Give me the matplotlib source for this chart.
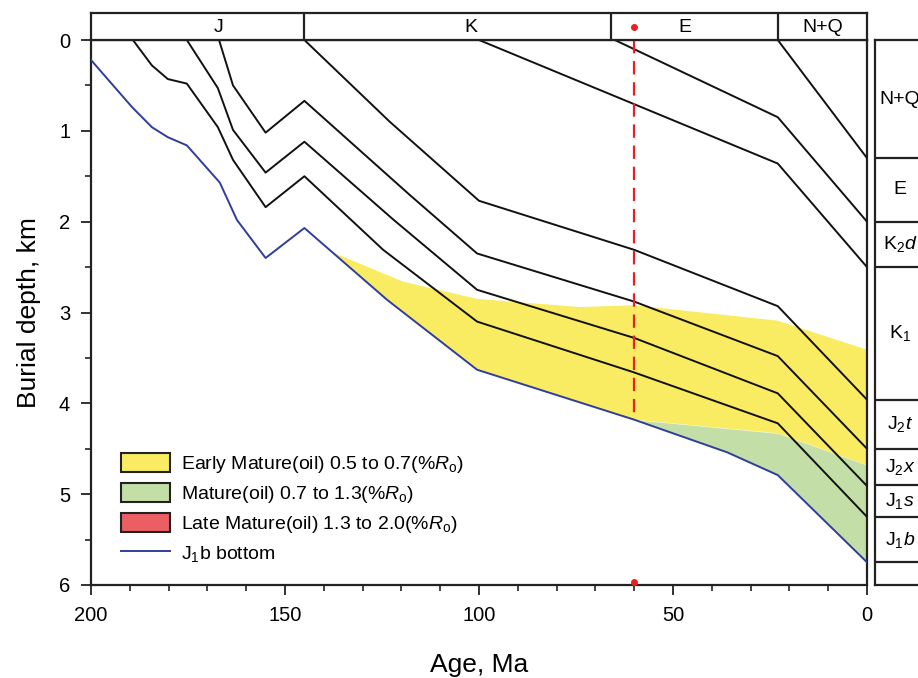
import matplotlib
matplotlib.use("Agg")
import matplotlib.pyplot as plt
import numpy as np
from matplotlib.patches import Patch
from matplotlib.lines import Line2D
from matplotlib.ticker import MultipleLocator

plt.rcParams['font.family'] = ['Liberation Sans', 'DejaVu Sans']
plt.rcParams['mathtext.fontset'] = 'custom'
plt.rcParams['mathtext.rm'] = 'Liberation Sans'
plt.rcParams['mathtext.it'] = 'Liberation Sans:italic'

# burial history curves: age (Ma) vs depth (km)
nq_age = [23, 0]
nq_depth = [0, 1.3]
e_age = [65, 23, 0]
e_depth = [0, 0.85, 2.0]
k2d_age = [100, 23, 0]
k2d_depth = [0, 1.36, 2.5]
k1_age = [145, 123, 100, 60, 23, 0]
k1_depth = [0, 0.90, 1.77, 2.31, 2.93, 3.96]
j2t_age = [167, 163.4, 155, 145, 118, 100.5, 60, 23, 0]
j2t_depth = [0, 0.50, 1.02, 0.67, 1.70, 2.35, 2.88, 3.48, 4.50]
j2x_age = [175.3, 167.3, 163.4, 155, 145, 122, 100.5, 60, 23, 0]
j2x_depth = [0, 0.53, 0.99, 1.46, 1.12, 1.98, 2.75, 3.28, 3.89, 4.91]
j1s_age = [189.2, 184.3, 180.2, 175.3, 167.3, 163.4, 155, 145, 124.7, 100.5, 60, 23, 0]
j1s_depth = [0, 0.28, 0.43, 0.48, 0.96, 1.32, 1.84, 1.50, 2.31, 3.10, 3.66, 4.22, 5.25]
j1b_age = [200, 189.4, 184.3, 180.2, 175.3, 166.8, 162.4, 155, 145, 123.7, 100.5, 60, 36, 23, 0]
j1b_depth = [0.22, 0.74, 0.96, 1.07, 1.16, 1.57, 1.98, 2.40, 2.07, 2.86, 3.63, 4.18, 4.54, 4.79, 5.75]

# maturity isolines
ro05_age = [137.6, 119.6, 100.5, 74, 60, 23, 0]
ro05_depth = [2.34, 2.66, 2.85, 2.94, 2.92, 3.09, 3.41]
ro07_age = [60, 23, 0]
ro07_depth = [4.18, 4.33, 4.68]

# stratigraphy
periods = ['J', 'K', 'E', 'N+Q']
period_bounds = [145, 66, 23]
period_label_x = [167, 102, 47, 11.5]
formations = ['N+Q', 'E', r'$\mathrm{K_2}\mathit{d}$', r'$\mathrm{K_1}$', r'$\mathrm{J_2}\mathit{t}$',
              r'$\mathrm{J_2}\mathit{x}$', r'$\mathrm{J_1}\mathit{s}$', r'$\mathrm{J_1}\mathit{b}$']
formation_bounds = [0, 1.3, 2.0, 2.5, 3.96, 4.5, 4.9, 5.25, 5.75]
section_age = 60

yellow = '#FAEC62'
green = '#C4DEA7'
red = '#EB5E63'
blue = '#2F3D9E'

fig = plt.figure(figsize=(9.18, 6.78), dpi=100)
ax = fig.add_axes([0.09913, 0.13717, 0.84532, 0.80383])
ax_top = fig.add_axes([0.09913, 0.94100, 0.84532, 0.0398])
ax_r = fig.add_axes([0.95316, 0.13717, 0.05447, 0.80383])

# maturity zones
blue_age_inc = np.array(j1b_age[::-1])
blue_dep_inc = np.array(j1b_depth[::-1])
bot_ages = [a for a in j1b_age if ro05_age[0] > a > ro07_age[0]]
poly_x = ro05_age + ro07_age[::-1] + [ro07_age[0]] + bot_ages[::-1] + [ro05_age[0]]
poly_y = (ro05_depth + ro07_depth[::-1]
          + list(np.interp([ro07_age[0]] + bot_ages[::-1] + [ro05_age[0]], blue_age_inc, blue_dep_inc)))
ax.fill(poly_x, poly_y, color=yellow, lw=0, zorder=1)

g_ages = np.array(sorted(set([a for a in j1b_age if a <= ro07_age[0]] + ro07_age)))
g_top = np.interp(g_ages, ro07_age[::-1], ro07_depth[::-1])
g_bot = np.interp(g_ages, blue_age_inc, blue_dep_inc)
ax.fill_between(g_ages, g_top, g_bot, color=green, lw=0, zorder=1)

for a, d in [(nq_age, nq_depth), (e_age, e_depth), (k2d_age, k2d_depth), (k1_age, k1_depth),
             (j2t_age, j2t_depth), (j2x_age, j2x_depth), (j1s_age, j1s_depth)]:
    ax.plot(a, d, color='#111111', lw=1.4, zorder=3)
ax.plot(j1b_age, j1b_depth, color=blue, lw=1.4, zorder=3)

# section line
sec_depth = np.interp(section_age, blue_age_inc, blue_dep_inc)
ax.plot([section_age, section_age], [0, sec_depth], color='#E82020', lw=1.6,
        dashes=(6, 3.5), zorder=4)
ax.plot([section_age], [5.97], 'o', color='#E82020', ms=4, clip_on=False, zorder=5)

ax.set_xlim(200, 0)
ax.set_ylim(6, 0)
ax.xaxis.set_major_locator(MultipleLocator(50))
ax.xaxis.set_minor_locator(MultipleLocator(10))
ax.yaxis.set_major_locator(MultipleLocator(1))
ax.yaxis.set_minor_locator(MultipleLocator(0.5))
ax.tick_params(which='major', direction='out', length=7, width=1.3, labelsize=14.5, pad=8,
               colors='#222222', labelcolor='black')
ax.tick_params(which='minor', direction='out', length=4, width=1.2, colors='#222222')
for s in ax.spines.values():
    s.set_linewidth(1.6)
    s.set_color('#222222')
ax.set_xlabel('Age, Ma', fontsize=19, labelpad=20)
ax.set_ylabel('Burial depth, km', fontsize=19, labelpad=13)

handles = [Patch(facecolor=yellow, edgecolor='#222222', lw=1.5),
           Patch(facecolor=green, edgecolor='#222222', lw=1.5),
           Patch(facecolor=red, edgecolor='#222222', lw=1.5),
           Line2D([], [], color=blue, lw=1.4)]
labels = [r'Early Mature(oil) 0.5 to 0.7(%$\mathit{R}_\mathrm{o}$)',
          r'Mature(oil) 0.7 to 1.3(%$\mathit{R}_\mathrm{o}$)',
          r'Late Mature(oil) 1.3 to 2.0(%$\mathit{R}_\mathrm{o}$)',
          r'J$_1$b bottom']
ax.legend(handles, labels, loc='upper left', bbox_to_anchor=(0.0387, 0.243), frameon=False,
          fontsize=14, handlelength=2.5, handleheight=1.15, labelspacing=0.4,
          handletextpad=0.6, borderpad=0, borderaxespad=0)

# period band
ax_top.set_xlim(200, 0)
ax_top.set_ylim(0, 1)
ax_top.set_xticks([])
ax_top.set_yticks([])
for s in ax_top.spines.values():
    s.set_linewidth(1.6)
    s.set_color('#222222')
for b in period_bounds:
    ax_top.axvline(b, color='#222222', lw=1.6)
for name, x in zip(periods, period_label_x):
    ax_top.text(x, 0.45, name, ha='center', va='center', fontsize=14)
ax_top.plot([section_age], [0.5], 'o', color='#E82020', ms=4)

# formation column
ax_r.set_xlim(0, 1)
ax_r.set_ylim(6, 0)
ax_r.set_xticks([])
ax_r.set_yticks([])
ax_r.spines['right'].set_visible(False)
for s in ['left', 'top', 'bottom']:
    ax_r.spines[s].set_linewidth(1.6)
    ax_r.spines[s].set_color('#222222')
for b in formation_bounds[1:]:
    ax_r.axhline(b, color='#222222', lw=1.6)
for i, name in enumerate(formations):
    mid = (formation_bounds[i] + formation_bounds[i + 1]) / 2
    ax_r.text(0.5, mid, name, ha='center', va='center', fontsize=14)

fig.savefig('out.png', dpi=100)
